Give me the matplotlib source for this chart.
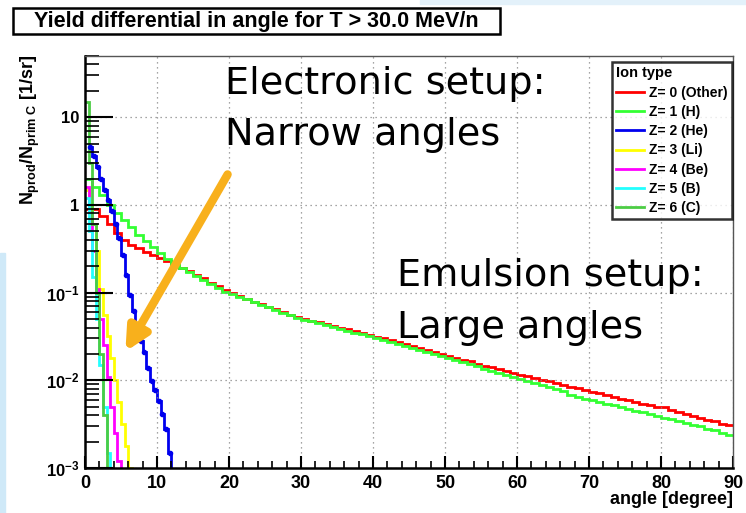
import numpy as np
import matplotlib
matplotlib.use("Agg")
import matplotlib.pyplot as plt
from matplotlib.patches import Rectangle, FancyArrowPatch
from matplotlib.ticker import FixedLocator, FixedFormatter, LogLocator, MultipleLocator, NullFormatter

plt.rcParams["font.family"] = ["Liberation Sans", "DejaVu Sans"]
plt.rcParams["mathtext.fontset"] = "custom"
plt.rcParams["mathtext.rm"] = "Liberation Sans:bold"
plt.rcParams["mathtext.it"] = "Liberation Sans:bold"
plt.rcParams["mathtext.bf"] = "Liberation Sans:bold"

# ---- data: yield per bin (1/sr) ----
# Z=0 and Z=1: 1 degree bins starting at 0
BIN_WIDE = 1.0
z0_other = [0.9, 0.9, 0.75, 0.6, 0.48, 0.40, 0.35, 0.32, 0.29, 0.27,
            0.25, 0.23, 0.21, 0.19, 0.175, 0.16, 0.145, 0.13, 0.118, 0.107,
            0.098, 0.091, 0.085, 0.079, 0.074, 0.069, 0.0645, 0.060, 0.056, 0.0525,
            0.050, 0.048, 0.0457, 0.0437, 0.0417, 0.0398, 0.038, 0.0363, 0.0347, 0.0331,
            0.0316, 0.0302, 0.0288, 0.0275, 0.026, 0.0247, 0.0236, 0.0223, 0.0211, 0.0201,
            0.019, 0.0181, 0.0172, 0.0165, 0.0155, 0.0147, 0.0141, 0.0133, 0.0128, 0.0122,
            0.0116, 0.0112, 0.0106, 0.0101, 0.0097, 0.0093, 0.0088, 0.0084, 0.0081, 0.0077,
            0.0074, 0.0071, 0.0068, 0.0065, 0.0062, 0.0059, 0.0057, 0.0054, 0.0052, 0.0049,
            0.0050, 0.0046, 0.0043, 0.0041, 0.0039, 0.0037, 0.0035, 0.0034, 0.0032, 0.0031]
z1_h = [2.0, 1.6, 1.3, 1.0, 0.82, 0.68, 0.56, 0.46, 0.39, 0.33,
        0.28, 0.24, 0.21, 0.19, 0.17, 0.155, 0.14, 0.125, 0.113, 0.103,
        0.097, 0.090, 0.084, 0.078, 0.073, 0.068, 0.063, 0.059, 0.055, 0.051,
        0.049, 0.047, 0.0445, 0.0425, 0.0405, 0.0385, 0.0367, 0.035, 0.0334, 0.0318,
        0.0302, 0.0288, 0.0274, 0.026, 0.0247, 0.0235, 0.0222, 0.021, 0.0199, 0.0189,
        0.0179, 0.017, 0.0161, 0.0152, 0.0144, 0.0136, 0.0129, 0.0122, 0.0115, 0.0109,
        0.0103, 0.0098, 0.0093, 0.0088, 0.0083, 0.0079, 0.0075, 0.0068, 0.0065, 0.0062,
        0.0059, 0.0056, 0.0054, 0.0052, 0.0049, 0.0047, 0.0045, 0.0043, 0.0041, 0.0039,
        0.0037, 0.0036, 0.0034, 0.0033, 0.0031, 0.0030, 0.0028, 0.0027, 0.0025, 0.0024]

# heavier fragments: 0.5 degree bins
BIN_NARROW = 0.5
z2_he_start = 0.5
z2_he = [4.6, 3.6, 2.7, 2.0, 1.5, 1.15, 0.85, 0.6, 0.42, 0.27,
         0.16, 0.095, 0.062, 0.042, 0.028, 0.021, 0.014, 0.0098, 0.0078, 0.0058,
         0.0041, 0.0028, 0.0015, 0.0006]
z3_li = [1.5, 1.0, 0.6, 0.3, 0.11, 0.056, 0.032, 0.018, 0.010, 0.0056,
         0.0032, 0.0018, 0.0010, 0.0005]
z4_be = [1.6, 0.8, 0.3, 0.11, 0.05, 0.025, 0.011, 0.005, 0.0025, 0.0012, 0.0005]
z5_b = [1.2, 0.5, 0.15, 0.05, 0.015, 0.005, 0.0015, 0.0005]
z6_c = [15.0, 3.0, 0.6, 0.1, 0.02, 0.004, 0.0008]

series = [
    ("Z= 0 (Other)", z0_other, 0.0, BIN_WIDE, "#ff0000"),
    ("Z= 1 (H)", z1_h, 0.0, BIN_WIDE, "#33ff33"),
    ("Z= 2 (He)", z2_he, z2_he_start, BIN_NARROW, "#0000ee"),
    ("Z= 3 (Li)", z3_li, 0.0, BIN_NARROW, "#ffff00"),
    ("Z= 4 (Be)", z4_be, 0.0, BIN_NARROW, "#ff00ff"),
    ("Z= 5 (B)", z5_b, 0.0, BIN_NARROW, "#22ffff"),
    ("Z= 6 (C)", z6_c, 0.0, BIN_NARROW, "#4ccc44"),
]

W, H = 746, 513
fig = plt.figure(figsize=(W / 100, H / 100), dpi=100)
fig.patches.append(Rectangle((0, 0), 5 / W, (H - 253) / H, transform=fig.transFigure,
                             color="#cfe9f8", zorder=0))
fig.patches.append(Rectangle((420 / W, 1 - 4 / H), 1, 4 / H, transform=fig.transFigure,
                             color="#e3f1fa", zorder=0))

ax = fig.add_axes([85 / W, 1 - 468 / H, (733 - 85) / W, (468 - 56) / H])
for name, vals, x0, bw, col in series:
    edges = x0 + bw * np.arange(len(vals) + 1)
    ax.stairs(vals, edges, color=col, lw=2, label=name, baseline=None)
    if name.startswith("Z= 2"):
        ax.plot(edges[:-1] + bw / 2, vals, "o", color=col, ms=3)

ax.set_yscale("log")
ax.set_xlim(0, 90)
ax.set_ylim(1e-3, 50)
ax.xaxis.set_major_locator(MultipleLocator(10))
ax.xaxis.set_minor_locator(MultipleLocator(2))
ax.yaxis.set_major_locator(FixedLocator([1e-3, 1e-2, 1e-1, 1, 10]))
ax.yaxis.set_major_formatter(FixedFormatter([r"$10^{-3}$", r"$10^{-2}$", r"$10^{-1}$", "1", "10"]))
ax.yaxis.set_minor_locator(LogLocator(base=10, subs=np.arange(2, 10), numticks=20))
ax.yaxis.set_minor_formatter(NullFormatter())
ax.tick_params(axis="y", which="major", direction="in", length=20, width=1.5, labelsize=12, pad=4)
ax.tick_params(axis="y", which="minor", direction="in", length=10, width=1.2)
ax.tick_params(axis="x", which="major", direction="in", length=9, width=1.5, labelsize=13, pad=5)
ax.tick_params(axis="x", which="minor", direction="in", length=5, width=1.2)
for lab in ax.get_xticklabels() + ax.get_yticklabels():
    lab.set_fontweight("bold")
ax.grid(True, which="major", ls=(0, (1, 3)), color="#888888", lw=0.9)
for s in ("left", "bottom"):
    ax.spines[s].set_linewidth(1.8)
for s in ("top", "right"):
    ax.spines[s].set_linewidth(1.0)
    ax.spines[s].set_color("#555555")

leg = ax.legend(title="Ion type", loc="upper right", bbox_to_anchor=(0.9985, 0.985),
                fontsize=10, title_fontsize=10.5, frameon=True, fancybox=False,
                handlelength=2.0, handletextpad=0.4, labelspacing=0.38, borderpad=0.3,
                borderaxespad=0.0)
leg.get_frame().set_edgecolor("black")
leg.get_frame().set_linewidth(1.8)
leg._legend_box.align = "left"
for t in leg.get_texts():
    t.set_fontweight("bold")
leg.get_title().set_fontweight("bold")

# titles and axis labels
fig.patches.append(Rectangle((13 / W, 1 - 34 / H), (500 - 13) / W, 26 / H,
                             transform=fig.transFigure, fill=False, ec="black", lw=1.8))
fig.text(256 / W, 1 - 21 / H, "Yield differential in angle for T > 30.0 MeV/n",
         ha="center", va="center", fontsize=15.5, fontweight="bold")
fig.text(30 / W, 1 - 55 / H, r"$N_{prod}/N_{prim\ C}$ [1/sr]", rotation=90,
         ha="center", va="top", fontsize=13, fontweight="bold")
fig.text(733 / W, 1 - 499 / H, "angle [degree]", ha="right", va="center",
         fontsize=13, fontweight="bold")

# slide annotations (y is the baseline of the last line)
fig.text(225 / W, 1 - 145 / H, "Electronic setup:\nNarrow angles", ha="left",
         va="baseline", fontsize=27.5, family="DejaVu Sans", linespacing=1.55)
fig.text(397 / W, 1 - 338 / H, "Emulsion setup:\nLarge angles", ha="left",
         va="baseline", fontsize=27.5, family="DejaVu Sans", linespacing=1.57)
arrow = FancyArrowPatch((229 / W, 1 - 172 / H), (124 / W, 1 - 354 / H),
                        transform=fig.transFigure, arrowstyle="-|>", mutation_scale=34,
                        color="#f8b01c", lw=6)
fig.patches.append(arrow)

fig.savefig("out.png", dpi=100)
